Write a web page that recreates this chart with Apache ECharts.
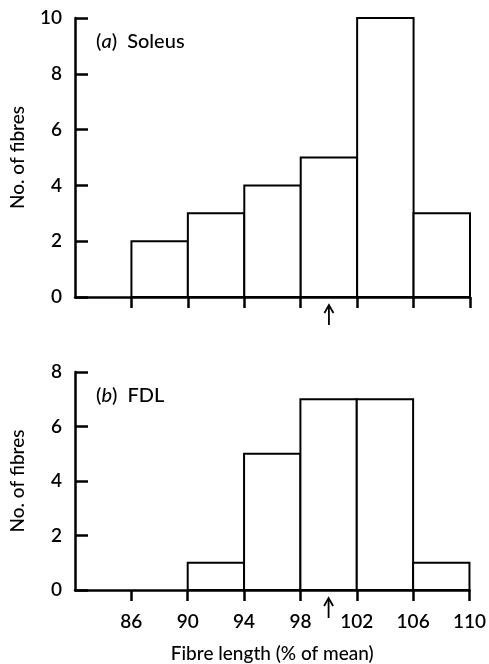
<!DOCTYPE html>
<html>
<head>
<meta charset="utf-8">
<script src="https://cdn.jsdelivr.net/npm/echarts@6/dist/echarts.min.js"></script>
<style>
  html, body { margin: 0; padding: 0; background: #fff; }
  #chart { width: 489px; height: 664px; }
</style>
</head>
<body>
<div id="chart"></div>
<script>
// bin edges (% of mean) and counts
var binStarts = [86, 90, 94, 98, 102, 106];
var binWidth = 4;
var soleusCounts = [2, 3, 4, 5, 10, 3];
var fdlCounts = [0, 1, 5, 7, 7, 1];
var xTicks = [86, 90, 94, 98, 102, 106, 110];
var soleusYMax = 10;
var fdlYMax = 8;
var yStep = 2;
var meanMark = 100;

var font = "Lato, 'Open Sans', sans-serif";

function binData(counts) {
    var out = [];
    for (var i = 0; i < counts.length; i++) {
        if (counts[i] > 0) out.push([binStarts[i], binStarts[i] + binWidth, counts[i]]);
    }
    return out;
}

function renderBin(params, api) {
    var p0 = api.coord([api.value(0), api.value(2)]);
    var p1 = api.coord([api.value(1), 0]);
    return {
        type: "rect",
        shape: { x: p0[0], y: p0[1], width: p1[0] - p0[0], height: p1[1] - p0[1] },
        style: { fill: "#fff", stroke: "#000", lineWidth: 2 }
    };
}

// little arrow under the axis marking the mean
function renderArrow(params, api) {
    var p = api.coord([api.value(0), 0]);
    var x = p[0], y = p[1];
    return {
        type: "group",
        children: [
            { type: "line", shape: { x1: x, y1: y + 9, x2: x, y2: y + 28 }, style: { stroke: "#000", lineWidth: 1.8 } },
            { type: "polyline", shape: { points: [[x - 4.5, y + 16], [x, y + 8], [x + 4.5, y + 16]] }, style: { stroke: "#000", lineWidth: 1.8, fill: null } }
        ]
    };
}

function xAxisFor(gridIndex, showLabels) {
    return {
        type: "value", gridIndex: gridIndex, min: 82, max: 110,
        splitLine: { show: false },
        axisLine: { onZero: false, lineStyle: { color: "#000", width: 2.5 } },
        axisTick: { show: true, length: 11, customValues: xTicks, lineStyle: { color: "#000", width: 2.5 } },
        axisLabel: { show: showLabels, customValues: xTicks, margin: 22, color: "#000", fontSize: 19, fontFamily: font, fontWeight: 600 },
        name: showLabels ? "Fibre length (% of mean)" : "",
        nameLocation: "middle", nameGap: 54,
        nameTextStyle: { color: "#000", fontSize: 19, fontFamily: font, fontWeight: 500 }
    };
}

function yAxisFor(gridIndex, max) {
    return {
        type: "value", gridIndex: gridIndex, min: 0, max: max, interval: yStep,
        splitLine: { show: false },
        axisLine: { show: true, lineStyle: { color: "#000", width: 2.5 } },
        axisTick: { show: true, inside: true, length: 13, lineStyle: { color: "#000", width: 2.5 } },
        axisLabel: { margin: 13, color: "#000", fontSize: 19, fontFamily: font, fontWeight: 600 },
        name: "No. of fibres", nameLocation: "middle", nameGap: 48,
        nameTextStyle: { color: "#000", fontSize: 19, fontFamily: font, fontWeight: 500 }
    };
}

var panelText = { fontSize: 20, fontFamily: font, fontWeight: 500, color: "#000",
                  rich: { i: { fontStyle: "italic", fontSize: 20, fontFamily: font, fontWeight: 500, color: "#000" } } };

var chart = echarts.init(document.getElementById("chart"), null, { renderer: "canvas" });

chart.setOption({
    backgroundColor: "#fff",
    animation: false,
    title: [
        { text: "({i|a})  Soleus", left: 96, top: 32, padding: 0, textStyle: panelText },
        { text: "({i|b})  FDL", left: 96, top: 386, padding: 0, textStyle: panelText }
    ],
    grid: [
        { left: 70, top: 18, width: 400, height: 279 },
        { left: 70, top: 372, width: 400, height: 225 }
    ],
    xAxis: [xAxisFor(0, false), xAxisFor(1, true)],
    yAxis: [yAxisFor(0, soleusYMax), yAxisFor(1, fdlYMax)],
    series: [
        { type: "custom", xAxisIndex: 0, yAxisIndex: 0, renderItem: renderBin, data: binData(soleusCounts), encode: { x: [0, 1], y: 2 } },
        { type: "custom", xAxisIndex: 1, yAxisIndex: 1, renderItem: renderBin, data: binData(fdlCounts), encode: { x: [0, 1], y: 2 } },
        { type: "custom", xAxisIndex: 0, yAxisIndex: 0, renderItem: renderArrow, clip: false, data: [[meanMark]], z: 5 },
        { type: "custom", xAxisIndex: 1, yAxisIndex: 1, renderItem: renderArrow, clip: false, data: [[meanMark]], z: 5 }
    ]
});
</script>
</body>
</html>
